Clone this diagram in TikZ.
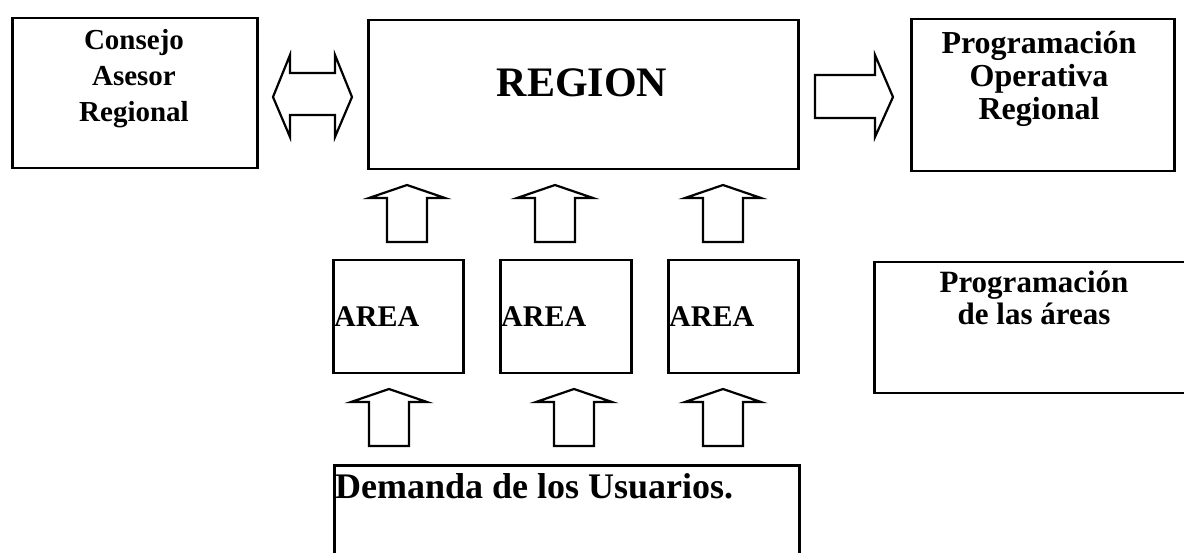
\documentclass[tikz,border=0pt]{standalone}
\usepackage{fontspec}
\setmainfont{Liberation Serif}
\begin{document}
\begin{tikzpicture}[x=1pt,y=-1pt,
  box/.style={draw, line width=2.5pt, inner sep=0pt, anchor=north west},
  lbl/.style={inner sep=0pt, align=center},
  blockarrow/.style={draw, line width=2.2pt, line join=miter, fill=white},
  uparrow/.pic={\draw[blockarrow] (0,0) -- (38,13) -- (20,13) -- (20,57) -- (-20,57) -- (-20,13) -- (-38,13) -- cycle;}]
\clip (0,0) rectangle (1184,553);
\fill[white] (0,0) rectangle (1184,553);
% boxes
\node[box, minimum width=245pt, minimum height=150pt] (consejo) at (11,17) {};
\node[box, minimum width=430pt, minimum height=149pt] (region) at (367,19) {};
\node[box, minimum width=263pt, minimum height=152pt] (progop) at (910,18) {};
\node[box, minimum width=130pt, minimum height=113pt] (area1) at (332,259) {};
\node[box, minimum width=131pt, minimum height=113pt] (area2) at (499,259) {};
\node[box, minimum width=130pt, minimum height=113pt] (area3) at (667,259) {};
\node[box, minimum width=335pt, minimum height=131pt] (progareas) at (873,261) {};
\node[box, minimum width=465pt, minimum height=120pt] (demanda) at (333,464) {};
% texts (base anchor = baseline of last line)
\node[lbl, font=\fontsize{29}{36}\selectfont\bfseries, anchor=base] (consejotxt) at (134,122) {Consejo\\Asesor\\Regional};
\node[lbl, font=\fontsize{42}{50}\selectfont\bfseries, anchor=base] (regiontxt) at (582,97) {REGION};
\node[lbl, font=\fontsize{32}{33}\selectfont\bfseries, anchor=base] (progoptxt) at (1039,120) {Programación\\Operativa\\Regional};
\node[lbl, font=\fontsize{30}{30}\selectfont\bfseries, anchor=base west] (area1txt) at (334,327) {AREA};
\node[lbl, font=\fontsize{30}{30}\selectfont\bfseries, anchor=base west] (area2txt) at (501,327) {AREA};
\node[lbl, font=\fontsize{30}{30}\selectfont\bfseries, anchor=base west] (area3txt) at (669,327) {AREA};
\node[lbl, font=\fontsize{31}{32}\selectfont\bfseries, anchor=base] (progareastxt) at (1034,325) {Programación\\de las áreas};
\node[lbl, font=\fontsize{36}{40}\selectfont\bfseries, anchor=base west] (demandatxt) at (335,498) {Demanda de los Usuarios.};
% block arrows
\draw[blockarrow] (273,97) -- (290,55) -- (290,73) -- (335,73) -- (335,55) -- (352,97)
  -- (335,137) -- (335,115) -- (290,115) -- (290,137) -- cycle;
\draw[blockarrow] (815,75) -- (875,75) -- (875,55) -- (893,97) -- (875,137) -- (875,118) -- (815,118) -- cycle;
\pic at (407,185) {uparrow};
\pic at (555,185) {uparrow};
\pic at (723,185) {uparrow};
\pic at (389,389) {uparrow};
\pic at (574,389) {uparrow};
\pic at (723,389) {uparrow};
\end{tikzpicture}
\end{document}
